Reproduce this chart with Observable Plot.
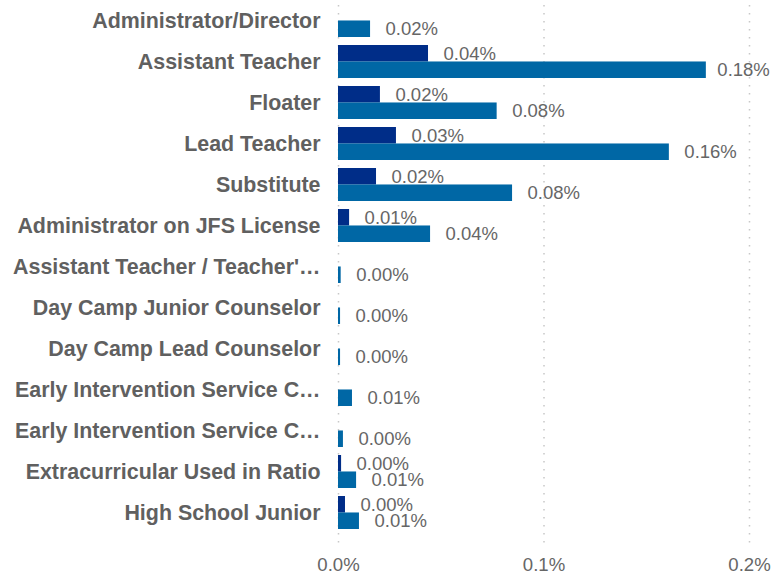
<!DOCTYPE html>
<html>
<head>
<meta charset="utf-8">
<script src="https://cdn.jsdelivr.net/npm/d3@7"></script>
<script src="https://cdn.jsdelivr.net/npm/@observablehq/plot@0.6"></script>
<style>
  html, body { margin: 0; padding: 0; background: #fff; }
  #chart { width: 774px; height: 574px; }
</style>
</head>
<body>
<div id="chart"></div>
<script>
const categories = [
  "Administrator/Director",
  "Assistant Teacher",
  "Floater",
  "Lead Teacher",
  "Substitute",
  "Administrator on JFS License",
  "Assistant Teacher / Teacher'…",
  "Day Camp Junior Counselor",
  "Day Camp Lead Counselor",
  "Early Intervention Service C…",
  "Early Intervention Service C…",
  "Extracurricular Used in Ratio",
  "High School Junior"
];
// values in percent
const seriesDark = [null, 0.0438, 0.0204, 0.0282, 0.0185, 0.0054, null, null, null, null, null, 0.0015, 0.0034];
const seriesLight = [0.0156, 0.179, 0.0772, 0.161, 0.0847, 0.0448, 0.0013, 0.0010, 0.0010, 0.0068, 0.0024, 0.0088, 0.0102];
const xTicks = [0, 0.1, 0.2];

// Use unique keys for the band scale (two labels repeat)
const keys = categories.map((c, i) => i);
const dark = keys.map(i => ({key: i, v: seriesDark[i]})).filter(d => d.v != null);
const light = keys.map(i => ({key: i, v: seriesLight[i]})).filter(d => d.v != null);

const width = 774, height = 574;
const marginTop = 0, marginBottom = 41, marginLeft = 338, marginRight = 25;
const padInner = 0.2, padOuter = 0.073;
const step = (height - marginTop - marginBottom) / (keys.length - padInner + 2 * padOuter);
const bw = step * (1 - padInner);
const half = bw / 2;
const fmt = d => d.v.toFixed(2) + "%";

const chart = Plot.plot({
  width, height, marginTop, marginBottom, marginLeft, marginRight,
  style: {fontFamily: "'Liberation Sans', Arial, sans-serif", background: "#fff"},
  x: {domain: [0, 0.2], ticks: xTicks, tickFormat: d => d.toFixed(1) + "%", label: null},
  y: {domain: keys, paddingInner: padInner, paddingOuter: padOuter, label: null},
  marks: [
    Plot.ruleX(xTicks, {stroke: "#c8c8c8", strokeWidth: 1.5, strokeDasharray: "1.5,6.5", insetTop: 5, insetBottom: -12}),
    Plot.barX(dark, {x: "v", y: "key", fill: "#002D88", insetBottom: half}),
    Plot.barX(light, {x: "v", y: "key", fill: "#0067A5", insetTop: half}),
    Plot.text(dark, {x: "v", y: "key", dy: -half / 2, dx: 15, text: fmt, textAnchor: "start", fill: "#666", fontSize: 18.5}),
    Plot.text(light.filter(d => d.v < 0.17), {x: "v", y: "key", dy: half / 2, dx: 15, text: fmt, textAnchor: "start", fill: "#666", fontSize: 18.5}),
    Plot.text(light.filter(d => d.v >= 0.17), {x: "v", y: "key", dy: half / 2, dx: 11, text: fmt, textAnchor: "start", fill: "#666", fontSize: 18.5}),
    Plot.axisY({tickSize: 0, tickPadding: 18, tickFormat: i => categories[i], fontSize: 21.4, fontWeight: "bold", fill: "#606060", label: null}),
    Plot.axisX({ticks: xTicks, tickSize: 0, tickPadding: 24, tickFormat: d => d.toFixed(1) + "%", fontSize: 18.6, fill: "#666", label: null})
  ]
});
document.getElementById("chart").appendChild(chart);
</script>
</body>
</html>
